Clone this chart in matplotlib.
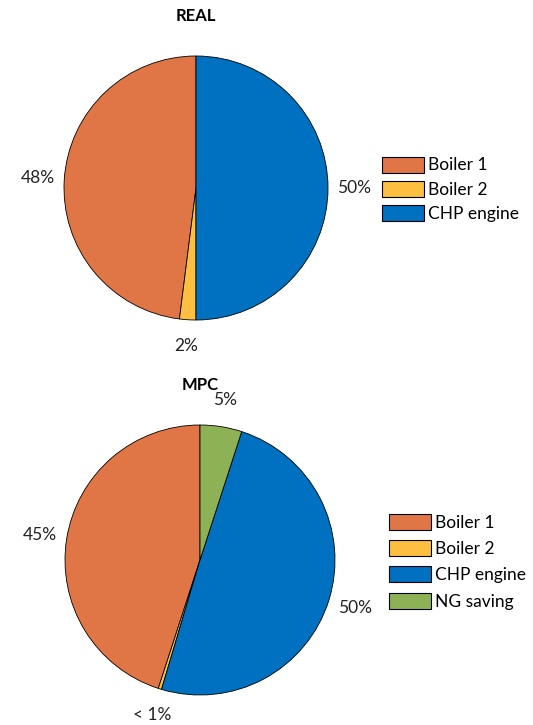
import matplotlib
matplotlib.use("Agg")
import matplotlib.pyplot as plt
from matplotlib.patches import Patch

plt.rcParams['font.family'] = ['Lato', 'DejaVu Sans']

# Dados
fontes = ['Boiler 1', 'Boiler 2', 'CHP engine', 'NG saving']
cores = ['#E07546', '#FDBF3F', '#0070C0', '#8DB255']

real_valores = [48.0, 2.0, 50.0]
real_rotulos = ['48%', '2%', '50%']

mpc_valores = [45.0, 0.4, 49.6, 5.0]
mpc_rotulos = ['45%', '< 1%', '50%', '5%']

W, H = 533, 725
fig = plt.figure(figsize=(W / 100, H / 100), dpi=100)


def eixo_pixels(cx, cy, r):
    # cria eixo quadrado com centro (cx, cy) e raio r em pixels (origem no topo)
    return fig.add_axes([(cx - r) / W, (H - cy - r) / H, 2 * r / W, 2 * r / H])


def desenhar_pizza(ax, valores, rotulos, n):
    wedges, textos = ax.pie(valores, labels=rotulos, colors=cores[:n],
                            startangle=90, counterclock=True, labeldistance=1.2,
                            wedgeprops=dict(edgecolor='black', linewidth=0.6),
                            textprops=dict(fontsize=12.5, color='#222222'))
    for t in textos:
        t.set_ha('center')
        t.set_va('center')
    ax.set_xlim(-1, 1)
    ax.set_ylim(-1, 1)
    ax.set_aspect('equal')
    ax.axis('off')


def legenda(ax, n, x, y, espaco):
    handles = [Patch(facecolor=cores[i], edgecolor='black', linewidth=0.8) for i in range(n)]
    ax.legend(handles, fontes[:n], loc='upper left', bbox_to_anchor=(x / W, 1 - y / H),
              bbox_transform=fig.transFigure, frameon=False, fontsize=12.5,
              handlelength=2.42, handleheight=1.05, handletextpad=0.23,
              labelspacing=espaco, borderpad=0, borderaxespad=0)


ax1 = eixo_pixels(196, 188, 132)
desenhar_pizza(ax1, real_valores, real_rotulos, 3)
legenda(ax1, 3, 382, 156.5, 0.42)
fig.text(196 / W, 1 - 16 / H, 'REAL', ha='center', va='center', fontsize=12, fontweight='bold')

ax2 = eixo_pixels(200, 560, 135)
desenhar_pizza(ax2, mpc_valores, mpc_rotulos, 4)
legenda(ax2, 4, 389, 514, 0.53)
fig.text(200 / W, 1 - 385 / H, 'MPC', ha='center', va='center', fontsize=12, fontweight='bold')

fig.savefig('out.png', dpi=100)
